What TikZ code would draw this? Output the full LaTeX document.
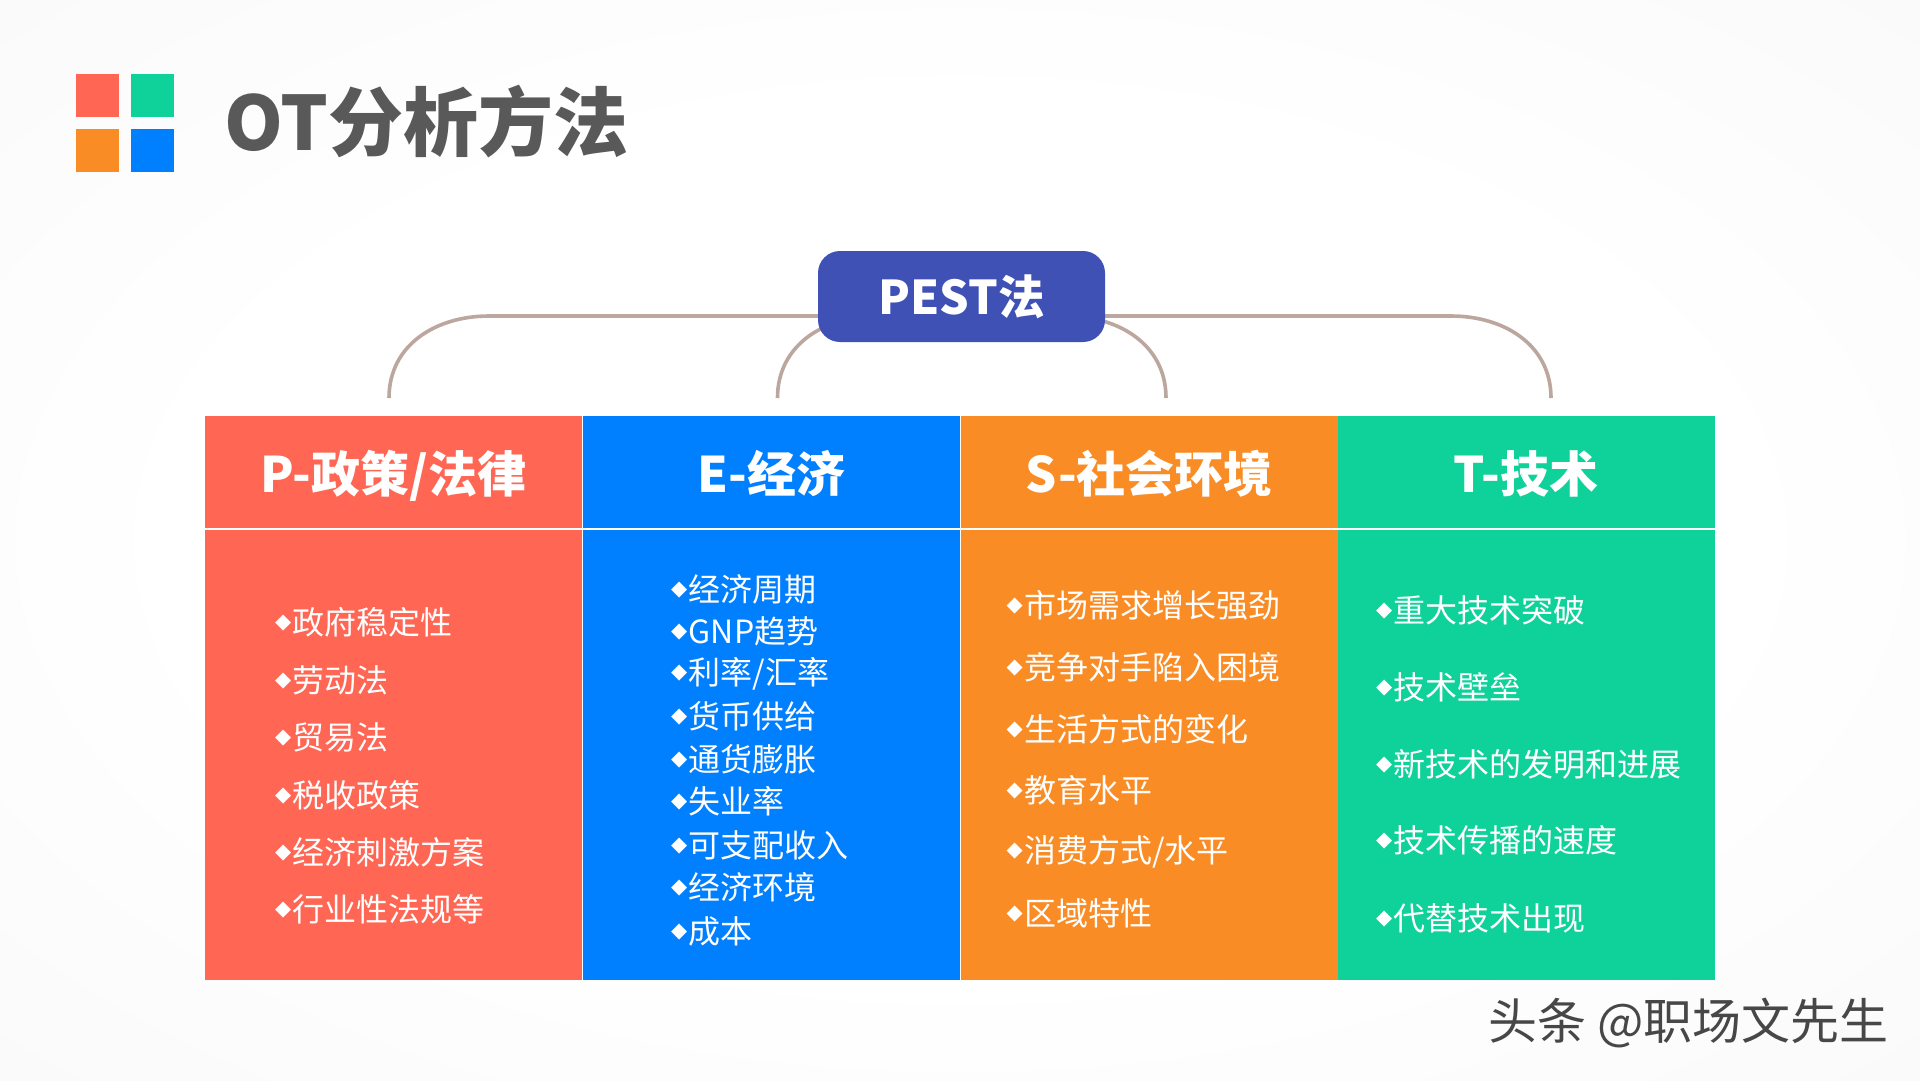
\documentclass[tikz,border=0pt]{standalone}
\usepackage{fontspec}
\setmainfont{Noto Sans CJK SC}
\newfontfamily\dejavu{DejaVu Sans}
\usetikzlibrary{backgrounds}
\usepackage{xcolor}
\definecolor{redc}{HTML}{FF6654}
\definecolor{bluec}{HTML}{007FFF}
\definecolor{orangec}{HTML}{F98C25}
\definecolor{greenc}{HTML}{0FD19A}
\definecolor{pestc}{HTML}{3F51B5}
\definecolor{linkc}{HTML}{BCA79E}
\definecolor{titlec}{HTML}{595959}
\pgfdeclareradialshading{bgglow}{\pgfpoint{0bp}{0bp}}{rgb(0bp)=(1,1,1); rgb(20bp)=(1,1,1); rgb(71bp)=(0.935,0.935,0.935)}
\newcommand{\bul}{{\dejavu\fontsize{21}{21}\selectfont\raisebox{6pt}{◆}}\hspace{1.5pt}}

\begin{document}
\begin{tikzpicture}[
  x=1pt, y=-1pt,
  tile/.style={rectangle, fill=#1, inner sep=0pt, minimum width=43pt, minimum height=43pt},
  head/.style={rectangle, fill=#1, inner sep=0pt, minimum width=376.5pt, minimum height=112pt, text=white, text height=45pt, text depth=4pt, font=\fontsize{49}{52}\selectfont\bfseries},
  body/.style={rectangle, fill=#1, inner sep=0pt, minimum width=376.5pt, minimum height=450pt},
  item/.style={anchor=west, inner sep=0pt, text=white, font=\fontsize{32}{36}\selectfont},
  link/.style={line width=3.6pt, linkc}
]
  \useasboundingbox (0,0) rectangle (1920,1080);

  \node[tile=redc] (tred) at (97.5,95.5) {};
  \node[tile=greenc] (tgreen) at (152.5,95.5) {};
  \node[tile=orangec] (torange) at (97.5,150.5) {};
  \node[tile=bluec] (tblue) at (152.5,150.5) {};
  \node[anchor=west, inner sep=0pt, text=titlec, font=\fontsize{75}{80}\selectfont\bfseries] (title) at (224,122) {OT分析方法};

  \node[rectangle, fill=pestc, rounded corners=22pt, minimum width=287pt, minimum height=91pt, inner sep=0pt, text=white, font=\fontsize{46.5}{50}\selectfont\bfseries] (pest) at (961.5,296.5) {PEST法};

  \node[head=redc] (phead) at (393.25,472) {P-政策/法律};
  \node[head=bluec] (ehead) at (771.25,472) {E-经济};
  \node[head=orangec] (shead) at (1149.25,472) {S-社会环境};
  \node[head=greenc] (thead) at (1526.25,472) {T-技术};
  \node[body=redc] (pbody) at (393.25,755) {};
  \node[body=bluec] (ebody) at (771.25,755) {};
  \node[body=orangec] (sbody) at (1149.25,755) {};
  \node[body=greenc] (tbody) at (1526.25,755) {};

  \coordinate (hub) at (961.5,316);
  \coordinate (pturn) at (489,316);
  \coordinate (eturn) at (877.5,316);
  \coordinate (sturn) at (1066,316);
  \coordinate (tturn) at (1451,316);
  \coordinate (pend) at (389,398);
  \coordinate (eend) at (777.5,398);
  \coordinate (send) at (1166,398);
  \coordinate (tend) at (1551,398);

  \begin{scope}[on background layer]
    \shade[shading=bgglow] (0,0) rectangle (1920,1080);
    \draw[link] (hub) -- (pturn) to[out=180, in=90, looseness=1.05] (pend);
    \draw[link] (hub) -- (eturn) to[out=180, in=90, looseness=1.05] (eend);
    \draw[link] (hub) -- (sturn) to[out=0, in=90, looseness=1.05] (send);
    \draw[link] (hub) -- (tturn) to[out=0, in=90, looseness=1.05] (tend);
  \end{scope}

  \node[item] (p1) at (275,622) {\bul 政府稳定性};
  \node[item] (p2) at (275,680) {\bul 劳动法};
  \node[item] (p3) at (275,737) {\bul 贸易法};
  \node[item] (p4) at (275,795) {\bul 税收政策};
  \node[item] (p5) at (275,852) {\bul 经济刺激方案};
  \node[item] (p6) at (275,909) {\bul 行业性法规等};

  \node[item] (e1) at (671,589) {\bul 经济周期};
  \node[item] (e2) at (671,631) {\bul GNP趋势};
  \node[item] (e3) at (671,674) {\bul 利率/汇率};
  \node[item] (e4) at (671,716) {\bul 货币供给};
  \node[item] (e5) at (671,759) {\bul 通货膨胀};
  \node[item] (e6) at (671,801) {\bul 失业率};
  \node[item] (e7) at (671,845) {\bul 可支配收入};
  \node[item] (e8) at (671,887) {\bul 经济环境};
  \node[item] (e9) at (671,931) {\bul 成本};

  \node[item] (s1) at (1006.5,605) {\bul 市场需求增长强劲};
  \node[item] (s2) at (1006.5,667) {\bul 竞争对手陷入困境};
  \node[item] (s3) at (1006.5,729) {\bul 生活方式的变化};
  \node[item] (s4) at (1006.5,790) {\bul 教育水平};
  \node[item] (s5) at (1006.5,852) {\bul 消费方式/水平};
  \node[item] (s6) at (1006.5,913) {\bul 区域特性};

  \node[item] (t1) at (1376,610) {\bul 重大技术突破};
  \node[item] (t2) at (1376,687) {\bul 技术壁垒};
  \node[item] (t3) at (1376,764) {\bul 新技术的发明和进展};
  \node[item] (t4) at (1376,840) {\bul 技术传播的速度};
  \node[item] (t5) at (1376,918) {\bul 代替技术出现};

  \node[anchor=west, inner sep=0pt, text=black!72, font=\fontsize{49}{52}\selectfont] (mark) at (1488,1023) {头条 @职场文先生};
\end{tikzpicture}
\end{document}
